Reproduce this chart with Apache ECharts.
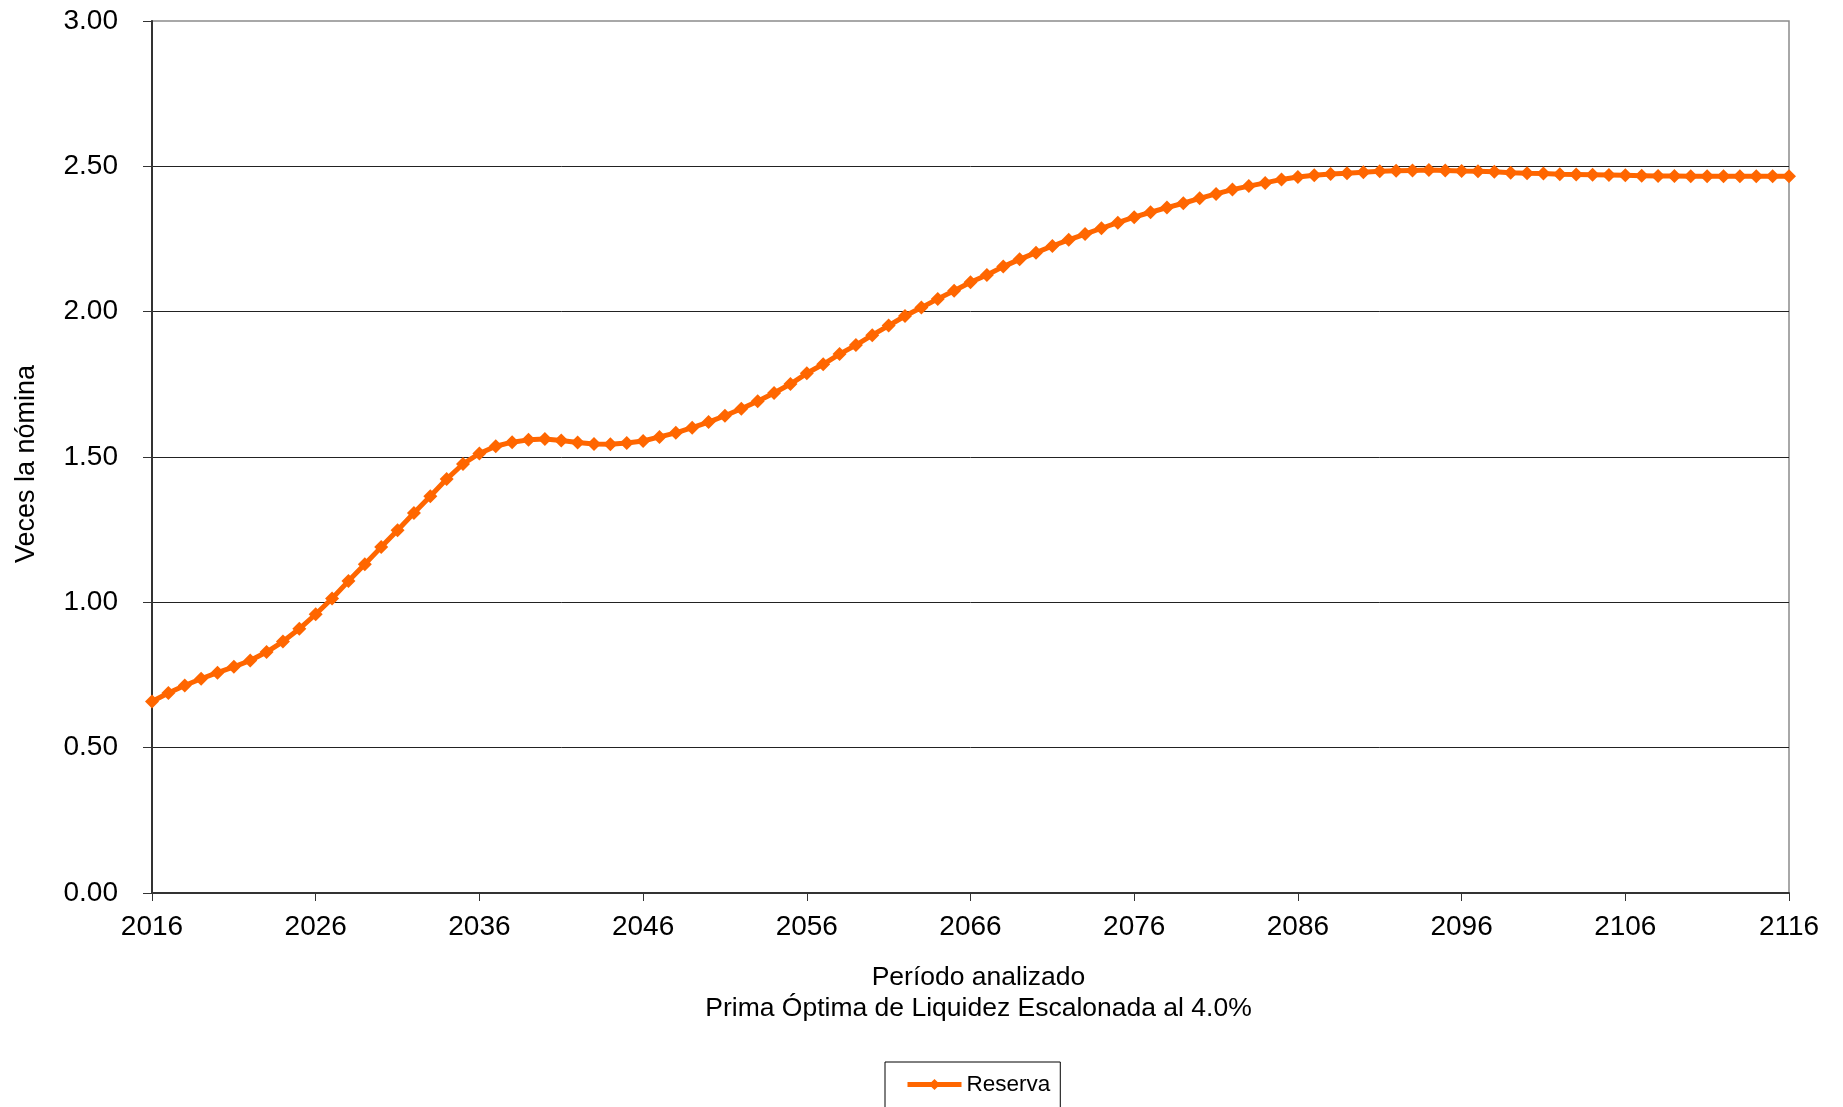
<!DOCTYPE html>
<html>
<head>
<meta charset="utf-8">
<script src="https://cdn.jsdelivr.net/npm/echarts@6/dist/echarts.min.js"></script>
<style>
html,body{margin:0;padding:0;background:#fff;}
#chart{width:1843px;height:1107px;}
</style>
</head>
<body>
<div id="chart"></div>
<script>
const years = [
  2016,2017,2018,2019,2020,2021,2022,2023,2024,2025,
  2026,2027,2028,2029,2030,2031,2032,2033,2034,2035,
  2036,2037,2038,2039,2040,2041,2042,2043,2044,2045,
  2046,2047,2048,2049,2050,2051,2052,2053,2054,2055,
  2056,2057,2058,2059,2060,2061,2062,2063,2064,2065,
  2066,2067,2068,2069,2070,2071,2072,2073,2074,2075,
  2076,2077,2078,2079,2080,2081,2082,2083,2084,2085,
  2086,2087,2088,2089,2090,2091,2092,2093,2094,2095,
  2096,2097,2098,2099,2100,2101,2102,2103,2104,2105,
  2106,2107,2108,2109,2110,2111,2112,2113,2114,2115,2116
];
const reserva = [
  0.659,0.688,0.714,0.737,0.758,0.778,0.800,0.829,0.865,0.909,
  0.959,1.013,1.073,1.131,1.190,1.248,1.307,1.365,1.424,1.476,
  1.512,1.537,1.551,1.559,1.562,1.557,1.550,1.545,1.544,1.548,
  1.555,1.569,1.583,1.601,1.620,1.642,1.666,1.692,1.720,1.751,
  1.788,1.819,1.854,1.885,1.919,1.952,1.985,2.014,2.044,2.072,
  2.101,2.126,2.155,2.180,2.203,2.226,2.247,2.267,2.287,2.306,
  2.325,2.342,2.358,2.373,2.390,2.405,2.420,2.432,2.443,2.455,
  2.463,2.469,2.474,2.476,2.480,2.483,2.485,2.486,2.487,2.486,
  2.484,2.483,2.481,2.478,2.476,2.475,2.473,2.472,2.471,2.470,
  2.469,2.468,2.467,2.467,2.466,2.466,2.466,2.466,2.466,2.466,2.466
];
const xTickLabels = [2016,2026,2036,2046,2056,2066,2076,2086,2096,2106,2116];
const yTickLabels = ['0.00','0.50','1.00','1.50','2.00','2.50','3.00'];
const seriesName = 'Reserva';
const yAxisTitle = 'Veces la nómina';
const xAxisTitle = 'Período analizado\nPrima Óptima de Liquidez Escalonada al 4.0%';

const FONT = '"Liberation Sans", Arial, sans-serif';
const chart = echarts.init(document.getElementById('chart'), null, {renderer:'canvas'});
chart.setOption({
  animation: false,
  backgroundColor: '#ffffff',
  textStyle: {fontFamily: FONT, color: '#000'},
  grid: {
    left: 152, right: 54, top: 21, bottom: 214,
    show: true, borderColor: '#8c8c8c', borderWidth: 1.5
  },
  legend: {
    data: [seriesName],
    left: 885, top: 1062,
    padding: [11, 10, 14, 20],
    borderColor: '#000', borderWidth: 1,
    itemWidth: 54, itemHeight: 14, itemGap: 5,
    lineStyle: {width: 5},
    textStyle: {fontFamily: FONT, fontSize: 22.5, color: '#000'}
  },
  xAxis: {
    type: 'category',
    data: years.map(String),
    boundaryGap: false,
    name: xAxisTitle,
    nameLocation: 'middle',
    nameGap: 69,
    nameTextStyle: {fontFamily: FONT, fontSize: 26.5, color: '#000', lineHeight: 31, padding: [0, 0, 0, 16]},
    axisLine: {lineStyle: {color: '#333', width: 2}},
    axisTick: {
      show: true, length: 8, lineStyle: {color: '#333', width: 1},
      interval: function(i, v){ return xTickLabels.indexOf(Number(v)) >= 0; }
    },
    axisLabel: {
      fontFamily: FONT, fontSize: 28, color: '#000', margin: 20,
      interval: function(i, v){ return xTickLabels.indexOf(Number(v)) >= 0; }
    },
    splitLine: {show: false}
  },
  yAxis: {
    type: 'value',
    min: 0, max: 3, interval: 0.5,
    name: yAxisTitle,
    nameLocation: 'middle',
    nameGap: 112,
    nameRotate: 90,
    nameTextStyle: {fontFamily: FONT, fontSize: 27, color: '#000', padding: [0, 14, 0, 0]},
    axisLine: {show: true, lineStyle: {color: '#333', width: 2}},
    axisTick: {show: true, length: 9, lineStyle: {color: '#333', width: 1}},
    axisLabel: {
      fontFamily: FONT, fontSize: 28, color: '#000', margin: 34,
      formatter: function(v){ const s = v.toFixed(2); return yTickLabels.indexOf(s) >= 0 ? s : ''; }
    },
    splitLine: {show: true, showMaxLine: false, lineStyle: {color: '#222', width: 1}}
  },
  series: [{
    name: seriesName,
    type: 'line',
    data: reserva,
    symbol: 'diamond',
    symbolSize: 14,
    showAllSymbol: true,
    lineStyle: {color: '#FF6600', width: 5},
    itemStyle: {color: '#FF6600'},
    emphasis: {disabled: true}
  }]
});
</script>
</body>
</html>
